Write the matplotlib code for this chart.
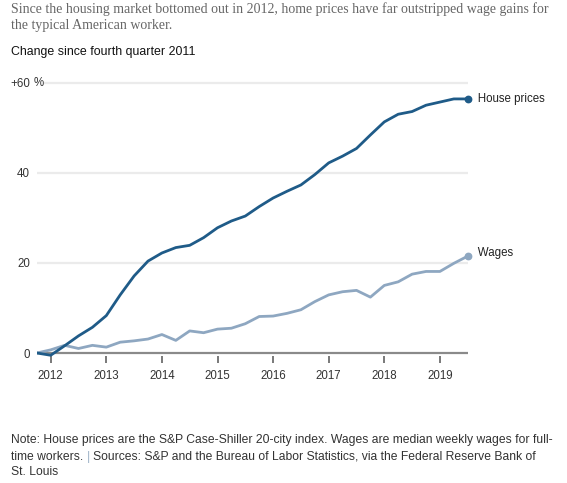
import matplotlib
matplotlib.use("Agg")
import matplotlib.pyplot as plt

# quarterly, from Q4 2011 to Q3 2019, % change since Q4 2011
quarters = list(range(32))
house_prices = [0.0, -0.5, 1.6, 3.8, 5.7, 8.3, 12.9, 17.1, 20.4, 22.2, 23.4, 23.9,
                25.6, 27.8, 29.3, 30.4, 32.5, 34.4, 35.9, 37.3, 39.6, 42.2, 43.7, 45.4,
                48.4, 51.3, 53.0, 53.6, 55.0, 55.7, 56.4, 56.4]
wages = [0.0, 0.7, 1.7, 1.0, 1.7, 1.3, 2.4, 2.7, 3.1, 4.1, 2.8, 4.9,
         4.5, 5.3, 5.5, 6.5, 8.1, 8.2, 8.8, 9.6, 11.4, 12.9, 13.6, 13.9,
         12.4, 15.0, 15.8, 17.5, 18.1, 18.1, 19.9, 21.5]
year_ticks = [1, 5, 9, 13, 17, 21, 25, 29]
year_labels = ["2012", "2013", "2014", "2015", "2016", "2017", "2018", "2019"]
y_ticks = [0, 20, 40, 60]
y_labels = ["0", "20", "40", "+60"]

house_color = "#1f5b88"
wage_color = "#8ea7c1"
sans = "Liberation Sans"
serif = "Liberation Serif"

W, H = 567, 483
fig = plt.figure(figsize=(W / 100, H / 100), dpi=100)

def fx(px):
    return px / W

def fy(py):
    return 1 - py / H

# plot area in pixels
left, right = 36.8, 467.7
y0_px, y60_px = 353.0, 82.7
unit = (y0_px - y60_px) / 60
ymin, ymax = -2.3, 62
bottom_px = y0_px - ymin * unit
top_px = y0_px - ymax * unit
ax = fig.add_axes([fx(left), fy(bottom_px), fx(right) - fx(left), (bottom_px - top_px) / H])
ax.set_xlim(0, 31)
ax.set_ylim(ymin, ymax)
for s in ax.spines.values():
    s.set_visible(False)

# gridlines
for v in y_ticks[1:]:
    xmin = 0.019 if v == 60 else 0
    ax.axhline(v, xmin=xmin, xmax=1, color="#ebebeb", lw=1.6, zorder=0)
ax.axhline(0, color="#8a8a8a", lw=1.6, zorder=1)

ax.plot(quarters, wages, color=wage_color, lw=2.0, zorder=3)
ax.plot(quarters, house_prices, color=house_color, lw=2.0, zorder=4)
ax.plot(quarters[-1], house_prices[-1], "o", color=house_color, ms=4.6, clip_on=False, zorder=5)
ax.plot(quarters[-1], wages[-1], "o", color=wage_color, ms=4.6, clip_on=False, zorder=5)

ax.text(31, house_prices[-1], "   House prices", ha="left", va="center",
        fontsize=8.3, family=sans, color="#222222")
ax.text(31, wages[-1] + 0.7, "   Wages", ha="left", va="center",
        fontsize=8.3, family=sans, color="#222222")

ax.set_xticks(year_ticks)
ax.set_xticklabels(year_labels, family=sans, fontsize=8.3, color="#333333")
ax.tick_params(axis="x", direction="in", length=4.8, width=1.1, color="#555555", pad=4.6)
ax.set_yticks(y_ticks)
ax.set_yticklabels(y_labels, family=sans, fontsize=8.3, color="#333333")
ax.tick_params(axis="y", length=0, pad=4.9)
ax.text(-0.0065, 60, "%", transform=ax.get_yaxis_transform(), ha="left", va="center",
        fontsize=8.3, family=sans, color="#333333")

# header
fig.text(fx(11), fy(9), "Since the housing market bottomed out in 2012, home prices have far outstripped wage gains for",
         ha="left", va="center", fontsize=10.0, family=serif, color="#666666")
fig.text(fx(11), fy(26), "the typical American worker.",
         ha="left", va="center", fontsize=10.0, family=serif, color="#666666")
fig.text(fx(11), fy(52), "Change since fourth quarter 2011",
         ha="left", va="center", fontsize=8.9, family=sans, color="#111111")

# footer
fs = 8.75
fig.text(fx(11), fy(440), "Note: House prices are the S&P Case-Shiller 20-city index. Wages are median weekly wages for full-",
         ha="left", va="center", fontsize=fs, family=sans, color="#333333")
t1 = fig.text(fx(11), fy(456.7), "time workers. ",
              ha="left", va="center", fontsize=fs, family=sans, color="#333333")
fig.canvas.draw()
bb = t1.get_window_extent()
t2 = fig.text(bb.x1 / W, fy(456.7), "| ", ha="left", va="center", fontsize=fs,
              family=sans, color="#9fb3c8")
fig.canvas.draw()
bb2 = t2.get_window_extent()
fig.text(bb2.x1 / W, fy(456.7), "Sources: S&P and the Bureau of Labor Statistics, via the Federal Reserve Bank of",
         ha="left", va="center", fontsize=fs, family=sans, color="#333333")
fig.text(fx(11), fy(472), "St. Louis",
         ha="left", va="center", fontsize=fs, family=sans, color="#333333")

fig.savefig("out.png", dpi=100)
